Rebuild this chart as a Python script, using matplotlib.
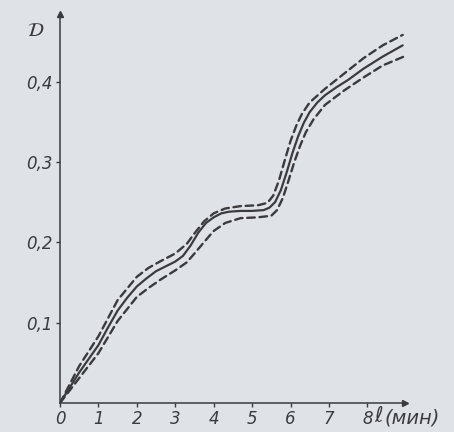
import matplotlib
matplotlib.use("Agg")
import matplotlib.pyplot as plt

# --- Data ---
t_solid = [0, 0.25, 0.5, 0.75, 1.0, 1.25, 1.5, 1.75, 2.0, 2.25, 2.5, 2.75, 3.0, 3.2, 3.4,
           3.6, 3.8, 4.0, 4.2, 4.4, 4.7, 5.0, 5.3, 5.45, 5.6, 5.75, 5.9, 6.05, 6.2, 6.35, 6.5,
           6.7, 6.9, 7.2, 7.5, 7.9, 8.4, 8.92]
D_solid = [0, 0.019, 0.038, 0.055, 0.072, 0.094, 0.115, 0.131, 0.145, 0.155, 0.164, 0.170, 0.176, 0.183, 0.196,
           0.212, 0.224, 0.231, 0.236, 0.238, 0.239, 0.239, 0.240, 0.243, 0.250, 0.265, 0.287, 0.311, 0.332, 0.349, 0.362,
           0.374, 0.383, 0.393, 0.402, 0.416, 0.431, 0.445]

t_upper = [0, 0.5, 1.0, 1.5, 2.0, 2.3, 2.6, 3.0, 3.3, 3.5, 3.75, 4.0, 4.3, 4.7, 5.15,
           5.4, 5.55, 5.7, 5.85, 6.0, 6.15, 6.3, 6.5, 6.9, 7.4, 7.9, 8.4, 8.92]
D_upper = [0, 0.046, 0.083, 0.128, 0.157, 0.168, 0.176, 0.186, 0.198, 0.211, 0.226, 0.236, 0.242, 0.245, 0.246,
           0.249, 0.258, 0.277, 0.302, 0.326, 0.345, 0.360, 0.374, 0.391, 0.410, 0.429, 0.445, 0.458]

t_lower = [0, 0.5, 1.0, 1.5, 2.0, 2.3, 2.6, 3.0, 3.3, 3.5, 3.8, 4.0, 4.3, 4.7, 5.15,
           5.5, 5.65, 5.8, 5.95, 6.1, 6.25, 6.4, 6.6, 6.9, 7.4, 7.9, 8.4, 8.95]
D_lower = [0, 0.031, 0.062, 0.102, 0.132, 0.143, 0.153, 0.165, 0.175, 0.186, 0.203, 0.214, 0.224, 0.230, 0.231,
           0.233, 0.240, 0.255, 0.277, 0.300, 0.320, 0.337, 0.353, 0.371, 0.389, 0.405, 0.420, 0.431]

x_ticks = [0, 1, 2, 3, 4, 5, 6, 7, 8]
y_ticks = [0.1, 0.2, 0.3, 0.4]
y_tick_labels = ["0,1", "0,2", "0,3", "0,4"]

PAPER = "#dfe3e8"
INK = "#3b3b3e"

fig = plt.figure(figsize=(4.54, 4.32), dpi=100, facecolor=PAPER)
ax = fig.add_axes([60 / 454, 29 / 432, 345 / 454, 389 / 432])
ax.set_facecolor("none")

ax.plot(t_solid, D_solid, color=INK, lw=1.6, solid_capstyle="round")
for t, d in ((t_upper, D_upper), (t_lower, D_lower)):
    ax.plot(t, d, color=INK, lw=1.7, linestyle=(0, (3.2, 2.0)), dash_capstyle="round")

ax.set_xlim(0, 8.98)
ax.set_ylim(0, 0.484)

for side in ("top", "right"):
    ax.spines[side].set_visible(False)
for side in ("left", "bottom"):
    ax.spines[side].set_color(INK)
    ax.spines[side].set_linewidth(1.1)

# arrow heads at the ends of both axes
ax.plot([0], [0.484], marker="^", color=INK, markersize=5, clip_on=False)
ax.plot([8.98], [0], marker=">", color=INK, markersize=4, clip_on=False)

ax.set_xticks(x_ticks)
ax.set_xticklabels([str(v) for v in x_ticks])
ax.set_yticks(y_ticks)
ax.set_yticklabels(y_tick_labels)
ax.tick_params(axis="both", direction="out", length=3, width=1.0, color=INK,
               labelcolor=INK, labelsize=12, pad=2)
for lab in ax.get_xticklabels() + ax.get_yticklabels():
    lab.set_fontstyle("italic")

fig.text(36 / 454, 1 - 30 / 432, r"$\mathcal{D}$", color=INK, fontsize=14,
         ha="center", va="center")
fig.text(374 / 454, 1 - 416 / 432, r"$\ell$", color=INK, fontsize=15,
         ha="left", va="center")
fig.text(384 / 454, 1 - 418 / 432, "(мин)", color=INK, fontsize=14,
         fontstyle="italic", ha="left", va="center")

fig.savefig("out.png", dpi=100, facecolor=PAPER)
